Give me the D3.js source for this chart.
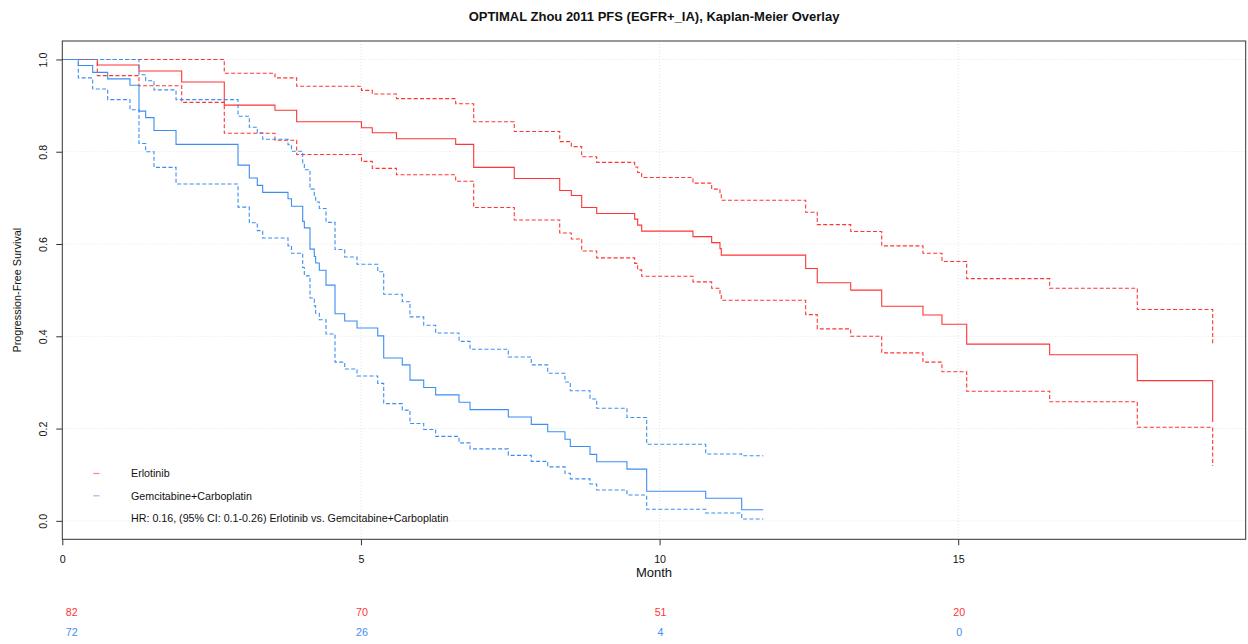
<!DOCTYPE html>
<html>
<head>
<meta charset="utf-8">
<script src="https://cdn.jsdelivr.net/npm/d3@7"></script>
<style>
  html, body { margin: 0; padding: 0; background: #fff; }
  svg { display: block; font-family: "Liberation Sans", Arial, sans-serif; }
</style>
</head>
<body>
<svg id="chart" width="1248" height="644"></svg>
<script>
// ---------------- DATA ----------------
const chartTitle = "OPTIMAL Zhou 2011 PFS (EGFR+_IA), Kaplan-Meier Overlay";
const armNames = ["Erlotinib", "Gemcitabine+Carboplatin"];
const hrText = "HR: 0.16, (95% CI: 0.1-0.26) Erlotinib vs. Gemcitabine+Carboplatin";

// Erlotinib: event times (months), KM estimate, 95% CI bounds
const erlTime  = [0.586,1.284,1.999,2.712,3.561,3.924,5.009,5.190,5.595,6.586,6.888,7.567,8.328,8.522,8.696,8.947,9.583,9.633,9.700,10.559,10.872,11.011,11.033,12.446,12.640,13.200,13.719,14.410,14.728,15.142,16.531,17.998,19.260];
const erlSurv  = [0.988,0.975,0.951,0.901,0.890,0.865,0.852,0.841,0.828,0.816,0.766,0.742,0.716,0.705,0.679,0.666,0.654,0.641,0.628,0.616,0.603,0.590,0.576,0.547,0.516,0.500,0.465,0.446,0.426,0.383,0.360,0.304,0.214];
const erlUpper = [1,1,1,0.970,0.960,0.942,0.933,0.925,0.915,0.904,0.865,0.844,0.822,0.811,0.789,0.777,0.767,0.755,0.744,0.732,0.719,0.708,0.695,0.669,0.642,0.627,0.596,0.580,0.562,0.525,0.504,0.458,0.385];
const erlLower = [0.965,0.943,0.907,0.840,0.825,0.794,0.779,0.764,0.750,0.736,0.679,0.652,0.624,0.611,0.585,0.570,0.558,0.544,0.530,0.518,0.504,0.491,0.478,0.447,0.416,0.400,0.364,0.344,0.323,0.281,0.258,0.203,0.119];
const erlEnd = 19.260;

// Gemcitabine+Carboplatin
const gcTime  = [0.268,0.509,0.760,1.133,1.284,1.396,1.535,1.904,2.942,3.131,3.265,3.355,3.779,3.837,4.025,4.052,4.147,4.219,4.242,4.303,4.415,4.566,4.728,4.934,5.281,5.381,5.692,5.821,6.051,6.251,6.642,6.826,7.467,7.852,8.127,8.416,8.505,8.835,8.947,9.454,9.784,10.772,11.375];
const gcSurv  = [0.987,0.972,0.958,0.944,0.888,0.874,0.846,0.816,0.771,0.743,0.727,0.712,0.698,0.682,0.649,0.635,0.589,0.573,0.559,0.543,0.511,0.449,0.433,0.418,0.401,0.353,0.338,0.305,0.289,0.273,0.257,0.241,0.225,0.209,0.193,0.177,0.161,0.144,0.128,0.112,0.064,0.049,0.024];
const gcUpper = [1,1,1,1,0.967,0.954,0.934,0.913,0.877,0.853,0.841,0.827,0.815,0.801,0.774,0.761,0.719,0.705,0.691,0.677,0.647,0.588,0.572,0.556,0.540,0.491,0.475,0.442,0.424,0.407,0.389,0.372,0.355,0.338,0.320,0.301,0.282,0.264,0.244,0.224,0.166,0.145,0.141];
const gcLower = [0.960,0.936,0.913,0.891,0.818,0.800,0.766,0.730,0.680,0.646,0.629,0.613,0.596,0.580,0.549,0.531,0.483,0.466,0.450,0.436,0.405,0.344,0.329,0.314,0.298,0.254,0.240,0.211,0.198,0.183,0.169,0.156,0.142,0.129,0.117,0.103,0.091,0.080,0.067,0.056,0.025,0.017,0.004];
const gcEnd = 11.736;

// axes & risk table
const xTicks = [0, 5, 10, 15];
const yTicks = [0, 0.2, 0.4, 0.6, 0.8, 1.0];
const riskTimes = [0, 5, 10, 15];
const erlRisk = [82, 70, 51, 20];
const gcRisk  = [72, 26, 4, 0];

// ---------------- STYLE / LAYOUT ----------------
const RED = "#FF3535";
const BLUE = "#3D8EF2";
const plot = { left: 62.3, right: 1245.7, top: 41, bottom: 539.3 };

const svg = d3.select("#chart");
const x = d3.scaleLinear().domain([0, 19.813]).range([plot.left, plot.right]);
const y = d3.scaleLinear().domain([-0.04, 1.04]).range([plot.bottom, plot.top]);

// grid (dotted)
const grid = svg.append("g");
grid.selectAll("line.gx").data(xTicks.filter(d => d > 0)).enter().append("line")
  .attr("x1", d => x(d)).attr("x2", d => x(d))
  .attr("y1", plot.top).attr("y2", plot.bottom)
  .attr("stroke", "#e4e4e4").attr("stroke-width", 1).attr("stroke-dasharray", "1,2");
grid.selectAll("line.gy").data(yTicks).enter().append("line")
  .attr("x1", plot.left).attr("x2", plot.right)
  .attr("y1", d => y(d)).attr("y2", d => y(d))
  .attr("stroke", "#e4e4e4").attr("stroke-width", 1).attr("stroke-dasharray", "1,2");

// curves
function stepPoints(times, vals, endTime) {
  const pts = [[0, 1]];
  times.forEach((t, i) => pts.push([t, vals[i]]));
  if (endTime > times[times.length - 1]) pts.push([endTime, vals[vals.length - 1]]);
  return pts;
}
const line = d3.line().x(d => x(d[0])).y(d => y(d[1])).curve(d3.curveStepAfter);

const arms = [
  { color: RED,  time: erlTime, surv: erlSurv, upper: erlUpper, lower: erlLower, end: erlEnd },
  { color: BLUE, time: gcTime,  surv: gcSurv,  upper: gcUpper,  lower: gcLower,  end: gcEnd }
];
const curves = svg.append("g").attr("fill", "none");
arms.forEach(a => {
  [a.upper, a.lower].forEach(ci => {
    curves.append("path").attr("d", line(stepPoints(a.time, ci, a.end)))
      .attr("stroke", a.color).attr("stroke-width", 1.1).attr("stroke-dasharray", "4,2.3");
  });
  curves.append("path").attr("d", line(stepPoints(a.time, a.surv, a.end)))
    .attr("stroke", a.color).attr("stroke-width", 1.1);
});

// frame
svg.append("rect").attr("x", plot.left).attr("y", plot.top)
  .attr("width", plot.right - plot.left).attr("height", plot.bottom - plot.top)
  .attr("fill", "none").attr("stroke", "#333").attr("stroke-width", 1);

// x axis
const xAxis = svg.append("g").attr("transform", `translate(0,${plot.bottom})`)
  .call(d3.axisBottom(x).tickValues(xTicks).tickFormat(d3.format("d")).tickSize(6).tickPadding(10));
xAxis.select(".domain").remove();
xAxis.selectAll("line").attr("stroke", "#333");
xAxis.selectAll("text").attr("font-size", "10.7px").attr("fill", "#111")
  .attr("font-family", "Liberation Sans, Arial, sans-serif");

// y axis
const yAxis = svg.append("g").attr("transform", `translate(${plot.left},0)`)
  .call(d3.axisLeft(y).tickValues(yTicks).tickFormat(d3.format(".1f")).tickSize(6));
yAxis.select(".domain").remove();
yAxis.selectAll("line").attr("stroke", "#333");
yAxis.selectAll("text")
  .attr("x", null).attr("dy", "0.36em")
  .attr("text-anchor", "middle")
  .attr("transform", "translate(-19,0) rotate(-90)")
  .attr("font-size", "10.7px").attr("fill", "#111")
  .attr("font-family", "Liberation Sans, Arial, sans-serif");

// title
svg.append("text").attr("x", (plot.left + plot.right) / 2).attr("y", 21.3)
  .attr("text-anchor", "middle").attr("font-size", "13px").attr("font-weight", "bold")
  .attr("fill", "#111").text(chartTitle);

// axis titles
svg.append("text").attr("x", (plot.left + plot.right) / 2).attr("y", 576.6)
  .attr("text-anchor", "middle").attr("font-size", "13px").attr("fill", "#111").text("Month");
svg.append("text")
  .attr("transform", `translate(21,${(plot.top + plot.bottom) / 2}) rotate(-90)`)
  .attr("text-anchor", "middle").attr("font-size", "10.8px").attr("fill", "#111")
  .text("Progression-Free Survival");

// legend
const legend = svg.append("g");
const legY = [473.5, 495.8];
[RED, BLUE].forEach((c, i) => {
  legend.append("line").attr("x1", 93.3).attr("x2", 99.5)
    .attr("y1", legY[i]).attr("y2", legY[i])
    .attr("stroke", c).attr("stroke-opacity", 0.6).attr("stroke-width", 1.2);
  legend.append("text").attr("x", 131).attr("y", legY[i]).attr("dy", "0.35em")
    .attr("font-size", "10.7px").attr("fill", "#111").text(armNames[i]);
});
legend.append("text").attr("x", 131).attr("y", 518.2).attr("dy", "0.35em")
  .attr("font-size", "10.7px").attr("fill", "#111").text(hrText);

// numbers at risk
const risk = svg.append("g").attr("font-size", "10.7px");
[[erlRisk, RED, 612.7], [gcRisk, BLUE, 632.7]].forEach(([vals, col, yy]) => {
  risk.selectAll(null).data(riskTimes).enter().append("text")
    .attr("x", (d) => d === 0 ? x(d) + 3.4 : x(d) + 1)
    .attr("y", yy).attr("dy", "0.35em")
    .attr("text-anchor", d => d === 0 ? "start" : "middle")
    .attr("fill", col)
    .text((d, i) => vals[i]);
});
</script>
</body>
</html>
